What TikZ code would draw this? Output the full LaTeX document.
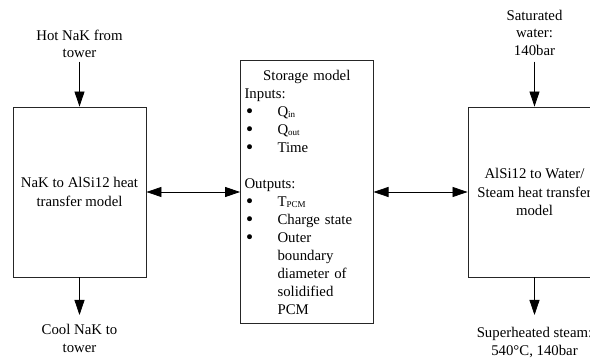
\documentclass[tikz,border=0pt]{standalone}
\usepackage{fontspec}
\setmainfont{Liberation Serif}
\newfontfamily\bulfont{DejaVu Sans}
\usetikzlibrary{arrows.meta}
\newcommand{\lowsub}[1]{\raisebox{-1.2pt}{\fontsize{9}{9}\selectfont #1}}
\newcommand{\bul}{\makebox[33pt][l]{\raisebox{-1pt}{\bulfont\fontsize{17}{17}\selectfont •}}}
\begin{document}
\begin{tikzpicture}[x=1pt,y=-1pt,
  box/.style={draw=black!85, line width=0.9pt, inner sep=0pt, align=center,
    font=\fontsize{14.8}{18.5}\selectfont},
  lbl/.style={align=center, inner sep=0pt, font=\fontsize{14.8}{17.7}\selectfont},
  arr/.style={-{Triangle[length=15pt,width=10pt]}, line width=0.8pt},
  biarr/.style={{Triangle[length=15pt,width=10pt]}-{Triangle[length=15pt,width=10pt]}, line width=0.8pt}]
\useasboundingbox (0,0) rectangle (590,358);
\clip (0,0) rectangle (590,358);
\fill[white] (0,0) rectangle (590,358);

% boxes
\node[box, minimum width=133pt, minimum height=170pt] (nak) at (79.5,192)
  {NaK to AlSi12 heat\\transfer model};
\node[box, minimum width=133pt, minimum height=170pt] (stm) at (534.5,192)
  {AlSi12 to Water/\\Steam heat transfer\\model};
\node[box, inner xsep=4pt, text width=124.5pt, align=left, minimum height=263.5pt,
  font=\fontsize{14.8}{18}\selectfont] (sto) at (306.8,192)
  {\makebox[124.5pt][c]{Storage model}\\
   Inputs:\\
   \bul Q\lowsub{in}\\
   \bul Q\lowsub{out}\\
   \bul Time\\[18pt]
   Outputs:\\
   \bul T\lowsub{PCM}\\
   \bul Charge state\\
   \bul Outer\\
   \hspace*{33pt}boundary\\
   \hspace*{33pt}diameter of\\
   \hspace*{33pt}solidified\\
   \hspace*{33pt}PCM};

% labels
\node[lbl, anchor=south] (hot) at (79.5,58.3) {Hot NaK from\\tower};
\node[lbl, anchor=north] (cool) at (79.5,324) {Cool NaK to\\tower};
\node[lbl, anchor=south] (sat) at (534.5,56) {Saturated\\water:\\140bar};
\node[lbl, anchor=north] (sup) at (534.5,327.5) {Superheated steam:\\540°C, 140bar};

% connectors
\draw[arr, shorten <=3.4pt] (hot.south) -- (nak.north);
\draw[arr, shorten >=9pt] (nak.south) -- (cool.north);
\draw[arr, shorten <=5.7pt] (sat.south) -- (stm.north);
\draw[arr, shorten >=12.5pt] (stm.south) -- (sup.north);
\draw[biarr] (nak.east) -- (sto.west);
\draw[biarr] (sto.east) -- (stm.west);
\end{tikzpicture}
\end{document}
